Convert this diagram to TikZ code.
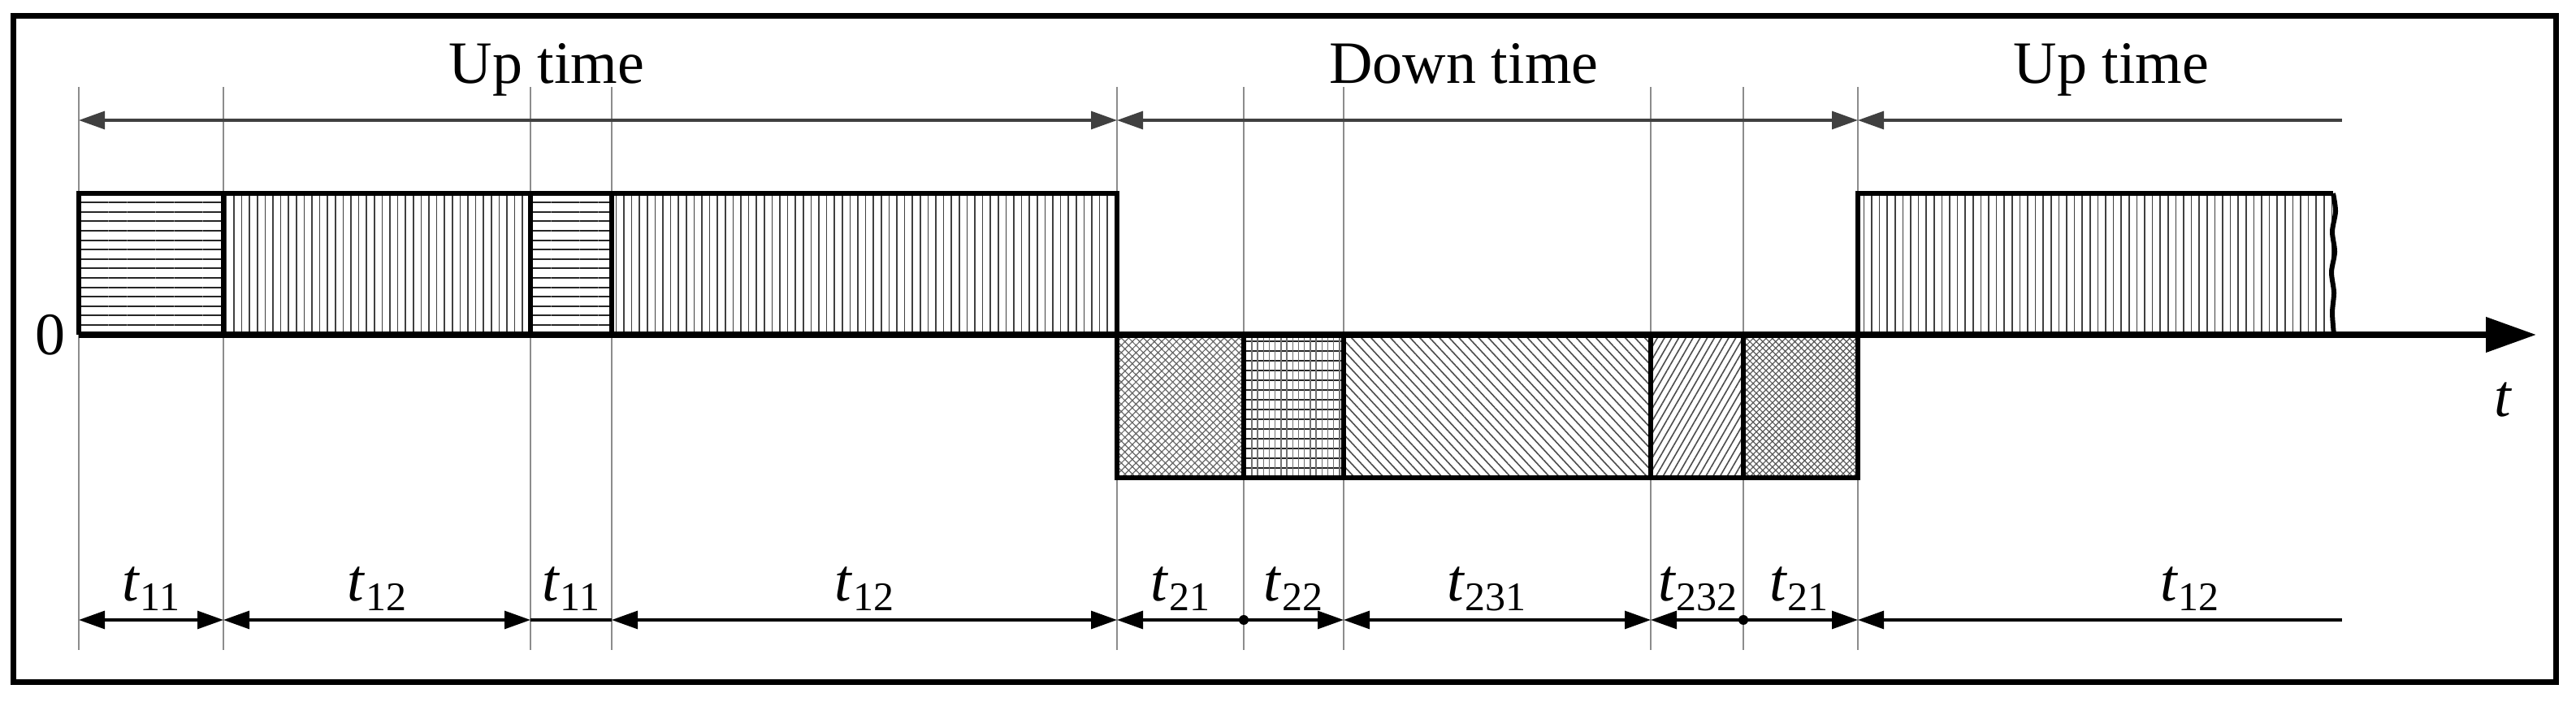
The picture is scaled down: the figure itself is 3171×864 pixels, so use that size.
\documentclass[tikz,border=0pt]{standalone}
\usepackage{fontspec}
\setmainfont{Liberation Serif}
\usetikzlibrary{arrows.meta,patterns.meta}
\newcommand{\tlab}[1]{\textit{t}\raisebox{-3pt}{\fontsize{12.5}{12.5}\selectfont #1}}
\begin{document}
\begin{tikzpicture}[x=0.25pt,y=-0.25pt,
  guide/.style={draw=black!45, line width=0.4pt},
  blk/.style={draw=black, line width=1.5pt, line join=miter},
  toparr/.style={draw=black!75, line width=0.8pt},
  botarr/.style={draw=black, line width=0.8pt},
  dbl/.style={arrows={Triangle[length=8pt,width=5.5pt]-Triangle[length=8pt,width=5.5pt]}},
  lhd/.style={arrows={Triangle[length=8pt,width=5.5pt]-}},
  rhd/.style={arrows={-Triangle[length=8pt,width=5.5pt]}},
  lbl/.style={font=\fontsize{18.5}{20}\selectfont, anchor=base, inner sep=0pt},
  hpat/.style={pattern={Lines[angle=0,distance=2.9pt,line width=0.5pt]}, pattern color=black!85},
  vpat/.style={pattern={Lines[angle=90,distance=2.4pt,line width=0.4pt]}, pattern color=black!75},
]
\useasboundingbox (0,0) rectangle (3171,864);
% frame
\draw[line width=1.75pt] (16.5,20) rectangle (3146.5,840);

% positions
\foreach \n/\x in {a/97,b/275,c/653,d/753,e/1375,f/1531,g/1654,h/2032,i/2146,j/2287}{
  \coordinate (g\n) at (\x,107);
  \coordinate (b\n) at (\x,800);
  \coordinate (u\n) at (\x,148);
  \coordinate (l\n) at (\x,763);
}
\coordinate (uk) at (2883,148);
\coordinate (lk) at (2883,763);
\coordinate (ax0) at (97,412);
\coordinate (ax1) at (3122,412);

% guide lines
\foreach \n in {a,b,c,d,e,f,g,h,i,j}{\draw[guide] (g\n) -- (b\n);}

% up blocks
\fill[hpat] (97,238) rectangle (275,412);
\fill[vpat] (275,238) rectangle (653,412);
\fill[hpat] (653,238) rectangle (753,412);
\fill[vpat] (753,238) rectangle (1375,412);
\fill[vpat] (2287,238) rectangle (2872,412);

% down blocks
\fill[pattern={Hatch[angle=45,distance=1.6pt,line width=0.3pt]}, pattern color=black!60] (1375,412) rectangle (1531,588);
\fill[pattern={Lines[angle=0,distance=3pt,line width=0.5pt]}, pattern color=black!85] (1531,412) rectangle (1654,588);
\fill[pattern={Lines[angle=90,distance=1.8pt,line width=0.35pt]}, pattern color=black!55] (1531,412) rectangle (1654,588);
\fill[pattern={Lines[angle=-47,distance=2.2pt,line width=0.4pt]}, pattern color=black!70] (1654,412) rectangle (2032,588);
\fill[pattern={Lines[angle=60,distance=1.9pt,line width=0.4pt]}, pattern color=black!70] (2032,412) rectangle (2146,588);
\fill[pattern={Hatch[angle=45,distance=1.4pt,line width=0.3pt]}, pattern color=black!65] (2146,412) rectangle (2287,588);

% outlines
\draw[blk] (97,412) -- (97,238) -- (1375,238) -- (1375,588) -- (2287,588) -- (2287,238) -- (2872,238);
\foreach \x in {275,653,753}{\draw[blk] (\x,238) -- (\x,412);}
\foreach \x in {1531,1654,2032,2146}{\draw[blk] (\x,412) -- (\x,588);}
\draw[blk] plot[smooth] coordinates {(2872,238) (2875,260) (2871,285) (2874,310) (2870,335) (2873,360) (2871,385) (2873,412)};

% axis
\draw[line width=1.9pt, -{Triangle[length=15.5pt,width=10.5pt]}] (ax0) -- (ax1);
\node[lbl] (zero) at (62,437) {0};
\node[lbl] (tax) at (3081,513) {\textit{t}};

% upper arrows
\draw[toparr, dbl] (ua) -- (ue);
\draw[toparr, dbl] (ue) -- (uj);
\draw[toparr, lhd] (uj) -- (uk);
\node[lbl] (up1) at (673,103) {Up time};
\node[lbl] (down) at (1802,103) {Down time};
\node[lbl] (up2) at (2599,103) {Up time};

% lower arrows
\draw[botarr, dbl] (la) -- (lb);
\draw[botarr, dbl] (lb) -- (lc);
\draw[botarr] (lc) -- (ld);
\draw[botarr, dbl] (ld) -- (le);
\draw[botarr, lhd] (le) -- (lf);
\draw[botarr, rhd] (lf) -- (lg);
\draw[botarr, dbl] (lg) -- (lh);
\draw[botarr, lhd] (lh) -- (li);
\draw[botarr, rhd] (li) -- (lj);
\draw[botarr, lhd] (lj) -- (lk);
\fill (lf) circle (6);
\fill (li) circle (6);

% segment labels
\node[lbl] (s1) at (186,740) {\tlab{11}};
\node[lbl] (s2) at (464,740) {\tlab{12}};
\node[lbl] (s3) at (703,740) {\tlab{11}};
\node[lbl] (s4) at (1064,740) {\tlab{12}};
\node[lbl] (s5) at (1453,740) {\tlab{21}};
\node[lbl] (s6) at (1592,740) {\tlab{22}};
\node[lbl] (s7) at (1830,740) {\tlab{231}};
\node[lbl] (s8) at (2090,740) {\tlab{232}};
\node[lbl] (s9) at (2214,740) {\tlab{21}};
\node[lbl] (s10) at (2695,740) {\tlab{12}};
\end{tikzpicture}
\end{document}
